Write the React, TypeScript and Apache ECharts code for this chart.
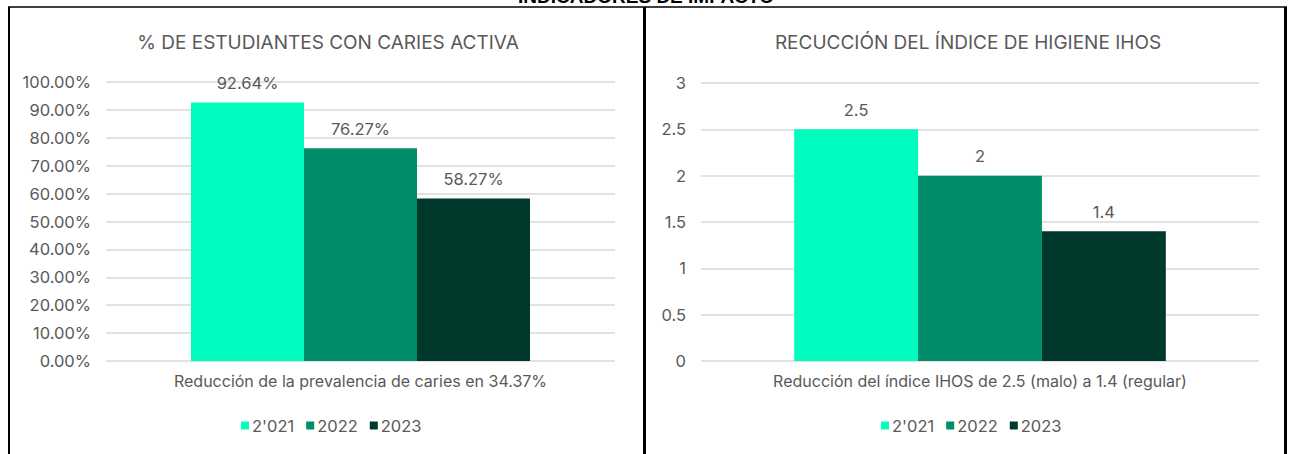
import React, { useEffect, useRef } from "react";
import * as echarts from "echarts";

const legendNames = ["2'021", "2022", "2023"];
const colors = ["#00FDBF", "#008D69", "#00392B"];

const leftTitle = "% DE ESTUDIANTES CON CARIES ACTIVA";
const leftCategory = ["Reducción de la prevalencia de caries en 34.37%"];
const leftValues = [0.9264, 0.7627, 0.5827];

const rightTitle = "RECUCCIÓN DEL ÍNDICE DE HIGIENE IHOS";
const rightCategory = ["Reducción del índice IHOS de 2.5 (malo) a 1.4 (regular)"];
const rightValues = [2.5, 2, 1.4];

const mainTitle = "INDICADORES DE IMPACTO";

const FONT = "Inter, 'Noto Sans', sans-serif";
const TXT = "#595959";

export default function App() {
  const ref = useRef<HTMLDivElement>(null);
  useEffect(() => {
    if (!ref.current) return;
    const chart = echarts.init(ref.current, null, { renderer: "svg" });
    const pct = (v: number) => (v * 100).toFixed(2) + "%";
    const grids = [
      { left: 106, right: 1289 - 615, top: 82, bottom: 454 - 361 },
      { left: 701, right: 1289 - 1259, top: 83, bottom: 454 - 361 },
    ];
    const xAxis = [leftCategory, rightCategory].map((cats, i) => ({
      type: "category",
      gridIndex: i,
      data: cats,
      axisLine: { show: false },
      axisTick: { show: false },
      axisLabel: { color: TXT, fontSize: 16, fontFamily: FONT, margin: 12 },
    }));
    const yAxis = [
      {
        type: "value",
        gridIndex: 0,
        min: 0,
        max: 1,
        interval: 0.1,
        axisLabel: { color: TXT, fontSize: 16.5, fontFamily: FONT, margin: 15, formatter: pct },
        splitLine: { lineStyle: { color: "#d9d9d9", width: 1.5 } },
      },
      {
        type: "value",
        gridIndex: 1,
        min: 0,
        max: 3,
        interval: 0.5,
        axisLabel: { color: TXT, fontSize: 16.5, fontFamily: FONT, margin: 15 },
        splitLine: { lineStyle: { color: "#d9d9d9", width: 1.5 } },
      },
    ];
    const series: any[] = [];
    legendNames.forEach((name, k) => {
      series.push({
        type: "bar",
        name,
        xAxisIndex: 0,
        yAxisIndex: 0,
        data: [leftValues[k]],
        barWidth: "22.2%",
        barGap: "0%",
        itemStyle: { color: colors[k] },
        label: {
          show: true,
          position: "top",
          distance: 11,
          color: TXT,
          fontSize: 16.5,
          fontFamily: FONT,
          formatter: (p: any) => pct(p.value),
        },
      });
    });
    legendNames.forEach((name, k) => {
      series.push({
        type: "bar",
        name,
        xAxisIndex: 1,
        yAxisIndex: 1,
        data: [rightValues[k]],
        barWidth: "22.2%",
        barGap: "0%",
        itemStyle: { color: colors[k] },
        label: {
          show: true,
          position: "top",
          distance: 11,
          color: TXT,
          fontSize: 16.5,
          fontFamily: FONT,
        },
      });
    });
    const legendCommon = {
      data: legendNames,
      itemWidth: 8,
      itemHeight: 8,
      itemGap: 12,
      icon: "rect",
      top: 412,
      textStyle: { color: TXT, fontSize: 16.5, fontFamily: FONT, padding: [0, 0, 0, -2] },
    };
    const lineStyle = { stroke: "#000", lineWidth: 2 };
    chart.setOption({
      animation: false,
      backgroundColor: "#fff",
      title: [
        {
          text: leftTitle,
          left: 323,
          top: 28,
          textAlign: "center",
          textStyle: { color: TXT, fontSize: 19, fontWeight: "normal", fontFamily: FONT },
        },
        {
          text: rightTitle,
          left: 963,
          top: 28,
          textAlign: "center",
          textStyle: { color: TXT, fontSize: 19, fontWeight: "normal", fontFamily: FONT },
        },
      ],
      legend: [
        { ...legendCommon, left: 236 },
        { ...legendCommon, left: 876 },
      ],
      grid: grids,
      xAxis,
      yAxis,
      series,
      graphic: [
        {
          type: "text",
          x: 646,
          y: -4,
          style: {
            text: mainTitle,
            fill: "#000",
            font: "bold 19px 'Liberation Sans', Arial, sans-serif",
            textAlign: "center",
            textVerticalAlign: "middle",
          },
        },
        { type: "line", shape: { x1: 8, y1: 7, x2: 1287, y2: 7 }, style: { stroke: "#000", lineWidth: 1.5 } },
        { type: "line", shape: { x1: 9, y1: 7, x2: 9, y2: 454 }, style: lineStyle },
        { type: "line", shape: { x1: 644.5, y1: 7, x2: 644.5, y2: 454 }, style: { stroke: "#000", lineWidth: 3 } },
        { type: "line", shape: { x1: 1285.5, y1: 7, x2: 1285.5, y2: 454 }, style: { stroke: "#000", lineWidth: 3 } },
      ],
    });
    return () => chart.dispose();
  }, []);
  return (
    <div
      ref={ref}
      style={{ position: "absolute", left: 0, top: 0, width: 1289, height: 454 }}
    />
  );
}
